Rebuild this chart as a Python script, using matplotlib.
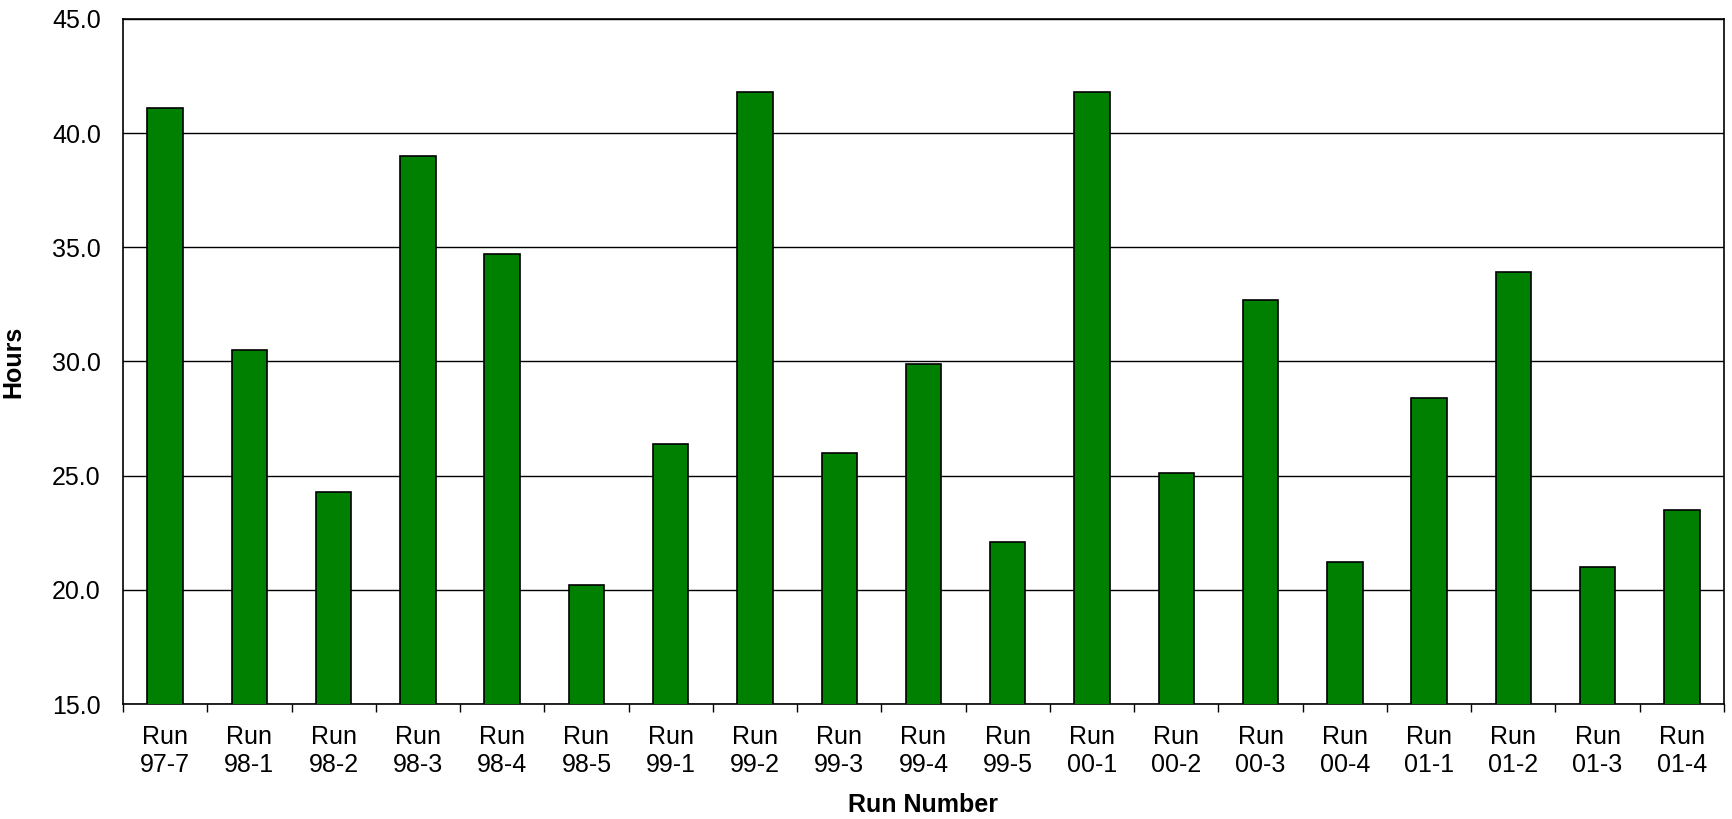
import matplotlib
matplotlib.use("Agg")
import matplotlib.pyplot as plt
import numpy as np

# run labels and hours per run
runs = ["97-7", "98-1", "98-2", "98-3", "98-4", "98-5", "99-1", "99-2", "99-3", "99-4",
        "99-5", "00-1", "00-2", "00-3", "00-4", "01-1", "01-2", "01-3", "01-4"]
hours = [41.1, 30.5, 24.3, 39.0, 34.7, 20.2, 26.4, 41.8, 26.0, 29.9,
         22.1, 41.8, 25.1, 32.7, 21.2, 28.4, 33.9, 21.0, 23.5]
yticks = [15.0, 20.0, 25.0, 30.0, 35.0, 40.0, 45.0]

plt.rcParams["font.family"] = ["Liberation Sans", "DejaVu Sans"]

fig = plt.figure(figsize=(17.32, 8.19), dpi=100)
ax = fig.add_axes([123 / 1732, 115 / 819, 1601 / 1732, 685 / 819])

x = np.arange(len(runs))
ax.bar(x, hours, width=0.42, bottom=0, color="#008000", edgecolor="black",
       linewidth=1.2, zorder=3)

ax.set_xlim(-0.5, len(runs) - 0.5)
ax.set_ylim(15, 45)
ax.set_yticks(yticks)
ax.set_yticklabels(["%.1f" % v for v in yticks], fontsize=18)
ax.yaxis.grid(True, color="black", linewidth=1.0, zorder=0)
ax.tick_params(axis="y", length=0, pad=16)

# category labels centred, tick marks between categories
ax.set_xticks(x)
ax.set_xticklabels(["Run\n" + r for r in runs], fontsize=18)
ax.tick_params(axis="x", which="major", length=0, pad=15)
ax.set_xticks(np.arange(len(runs) + 1) - 0.5, minor=True)
ax.tick_params(axis="x", which="minor", length=6, width=1.0, direction="out", color="black")

for s in ax.spines.values():
    s.set_color("black")
    s.set_linewidth(1.2)

ax.set_ylabel("Hours", fontsize=18, fontweight="bold", labelpad=19)
ax.set_xlabel("Run Number", fontsize=18, fontweight="bold", labelpad=12)

plt.savefig("out.png", dpi=100)
